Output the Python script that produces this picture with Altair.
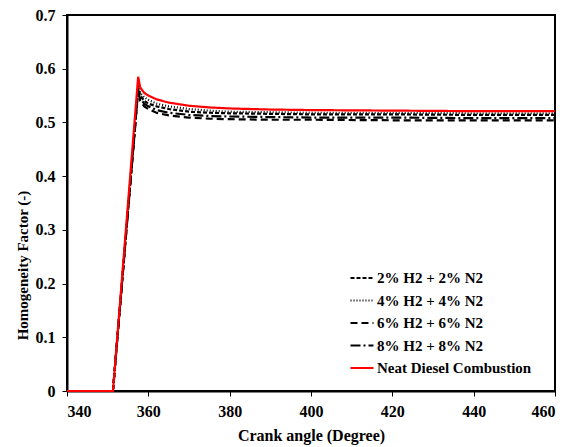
import altair as alt
import pandas as pd

crank = [340, 351.3, 357.5, 358, 359, 360, 362, 365, 370, 375, 380, 390, 400, 420, 440, 460]
h2_2 = [0, 0, 0.565, 0.550, 0.540, 0.535, 0.530, 0.525, 0.520, 0.518, 0.517, 0.516, 0.515, 0.515, 0.514, 0.514]
h2_4 = [0, 0, 0.570, 0.555, 0.547, 0.542, 0.535, 0.530, 0.525, 0.522, 0.520, 0.519, 0.518, 0.518, 0.517, 0.517]
h2_6 = [0, 0, 0.560, 0.540, 0.530, 0.525, 0.518, 0.513, 0.509, 0.507, 0.506, 0.505, 0.505, 0.504, 0.504, 0.504]
h2_8 = [0, 0, 0.560, 0.545, 0.535, 0.530, 0.523, 0.518, 0.514, 0.512, 0.511, 0.510, 0.509, 0.509, 0.508, 0.508]
neat = [0, 0, 0.585, 0.565, 0.555, 0.550, 0.543, 0.537, 0.531, 0.528, 0.526, 0.524, 0.523, 0.522, 0.521, 0.521]

series_names = ["2% H2 + 2% N2", "4% H2 + 4% N2", "6% H2 + 6% N2", "8% H2 + 8% N2", "Neat Diesel Combustion"]
series_values = [h2_2, h2_4, h2_6, h2_8, neat]
colors = ["black", "black", "black", "black", "#ff0000"]
dashes = [[4, 2], [1, 2], [7, 4], [10, 3, 2, 3], [1, 0]]
widths = [2.2, 2.2, 2.2, 2.2, 3]

rows = []
for name, vals in zip(series_names, series_values):
    for i, (c, v) in enumerate(zip(crank, vals)):
        rows.append({"angle": c, "hf": v, "series": name, "order": i})
df = pd.DataFrame(rows)

font = "Liberation Serif"

legend_kw = dict(title=None, orient="none", legendX=282, legendY=250,
                 symbolType="stroke", symbolSize=529, symbolStrokeWidth=2.5,
                 labelFont=font, labelFontSize=15, labelFontWeight="bold",
                 labelColor="black", rowPadding=1.5, labelOffset=2)

chart = alt.Chart(df).mark_line().encode(
    x=alt.X("angle:Q", scale=alt.Scale(domain=[340, 460], nice=False),
            axis=alt.Axis(values=[340, 360, 380, 400, 420, 440, 460],
                          title="Crank angle (Degree)", labelPadding=7, titlePadding=8)),
    y=alt.Y("hf:Q", scale=alt.Scale(domain=[0, 0.7], nice=False),
            axis=alt.Axis(values=[0, 0.1, 0.2, 0.3, 0.4, 0.5, 0.6, 0.7],
                          labelExpr="datum.value == 0 ? '0' : format(datum.value, '.1f')",
                          title="Homogeneity  Factor (-)", labelPadding=7,
                          titleX=-37, titleY=250, titleFontSize=15)),
    color=alt.Color("series:N", scale=alt.Scale(domain=series_names, range=colors),
                    legend=alt.Legend(**legend_kw)),
    strokeDash=alt.StrokeDash("series:N", scale=alt.Scale(domain=series_names, range=dashes),
                              legend=alt.Legend(**legend_kw)),
    strokeWidth=alt.StrokeWidth("series:N", scale=alt.Scale(domain=series_names, range=widths), legend=None),
    order="order:Q",
).properties(
    width=488, height=376,
    background="white",
    autosize=alt.AutoSizeParams(type="none"),
    padding={"left": 59, "top": 7, "right": 6, "bottom": 55},
).configure_view(
    stroke="black", strokeWidth=2
).configure_axis(
    grid=False, domainColor="black", domainWidth=2, tickColor="black", tickSize=5, tickWidth=1,
    labelFont=font, labelFontSize=16, labelFontWeight="bold", labelColor="black",
    titleFont=font, titleFontSize=16, titleFontWeight="bold", titleColor="black",
)

chart.save("out.html", embed_options={"renderer": "svg", "actions": False})
